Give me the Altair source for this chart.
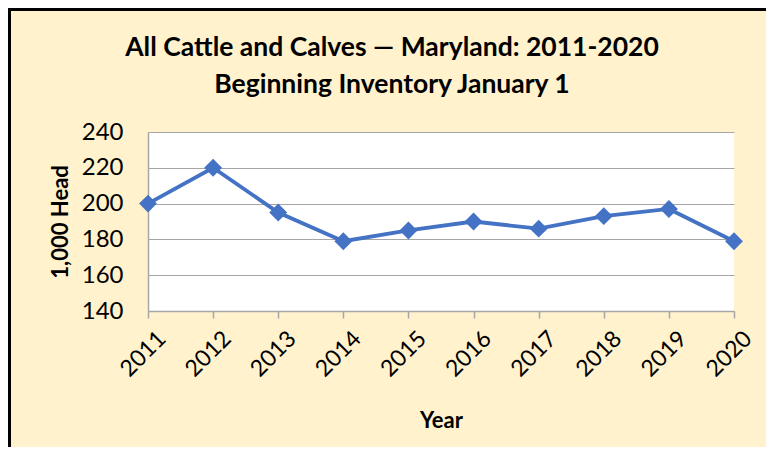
import altair as alt
import pandas as pd

years = [2011, 2012, 2013, 2014, 2015, 2016, 2017, 2018, 2019, 2020]
head = [200, 220, 195, 179, 185, 190, 186, 193, 197, 179]
y_ticks = [140, 160, 180, 200, 220, 240]

title_lines = ["All Cattle and Calves \u2014 Maryland: 2011-2020",
               "Beginning Inventory January 1"]

df = pd.DataFrame({"Year": years, "Head": head})

FONT = "Lato"
BLUE = "#4472C4"
GRAY = "#A6A6A6"
CREAM = "#FFF2CC"

x_enc = alt.X("Year:Q",
              scale=alt.Scale(domain=[years[0], years[-1]], nice=False, zero=False),
              axis=alt.Axis(values=years, tickCount=len(years), format="d",
                            title="Year", grid=False,
                            labelAngle=-45, labelFontSize=23, labelFont=FONT,
                            labelColor="black", labelPadding=9, labelOffset=6,
                            labelOverlap=False,
                            ticks=True, tickSize=7, tickColor=GRAY, tickWidth=1.5,
                            domainColor=GRAY, domainWidth=1.5,
                            titleFont=FONT, titleFontSize=22, titleFontWeight="bold",
                            titleColor="black", titlePadding=30))
y_enc = alt.Y("Head:Q",
              scale=alt.Scale(domain=[y_ticks[0], y_ticks[-1]], nice=False, zero=False),
              axis=alt.Axis(values=y_ticks, tickCount=len(y_ticks), title="1,000 Head",
                            grid=True, gridColor=GRAY, gridWidth=1.2, ticks=False,
                            domainColor=GRAY, domainWidth=1.5, labelOverlap=False,
                            labelFontSize=24, labelFont=FONT, labelColor="black",
                            labelPadding=25,
                            titleFont=FONT, titleFontSize=22, titleFontWeight="bold",
                            titleColor="black", titlePadding=9))

line = alt.Chart(df).mark_line(color=BLUE, strokeWidth=3.8).encode(x=x_enc, y=y_enc)
pts = alt.Chart(df).mark_point(shape="diamond", filled=True, color=BLUE, size=320,
                               opacity=1).encode(x="Year:Q", y="Head:Q")

border = alt.Chart(df).mark_rule(color="black", strokeWidth=3).encode(
    x=alt.value(-138.5), x2=alt.value(-138.5), y=alt.value(-124), y2=alt.value(316))
border_top = alt.Chart(df).mark_rule(color="black", strokeWidth=3).encode(
    x=alt.value(-140), x2=alt.value(618), y=alt.value(-122.5), y2=alt.value(-122.5))

chart = alt.layer(line, pts, border, border_top).properties(
    width=586, height=179,
    autosize=alt.AutoSizeParams(type="none"),
    padding={"left": 140, "top": 124, "right": 32, "bottom": 136},
    background=CREAM,
    title=alt.TitleParams(text=title_lines, font=FONT, fontSize=26.5, fontWeight="bold",
                          color="black", anchor="middle", dx=-49, lineHeight=37,
                          offset=0, dy=92),
).configure_view(fill="white", stroke=None)

chart.save("out.html", embed_options={"renderer": "svg", "actions": False})
